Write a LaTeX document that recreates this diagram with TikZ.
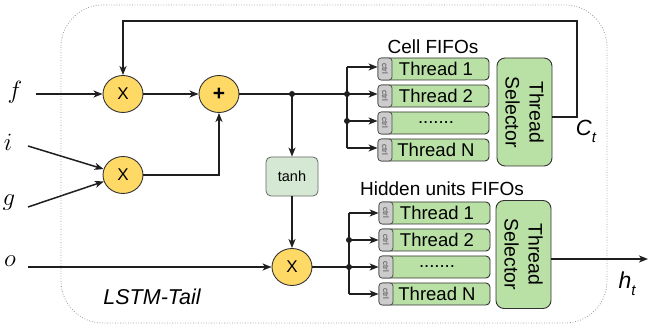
\documentclass[tikz,border=0pt]{standalone}
\usepackage{fontspec}
\setmainfont{Liberation Sans}
\usetikzlibrary{arrows.meta,shapes.geometric,calc}
\definecolor{cyel}{HTML}{FFD966}
\definecolor{cgreen}{HTML}{B9E0A5}
\definecolor{clight}{HTML}{D5E8D4}
\definecolor{cgrey}{HTML}{CCCCCC}
\definecolor{cline}{HTML}{1F1F1F}
\begin{document}
\begin{tikzpicture}[x=1pt,y=-1pt,
  conn/.style={draw=cline, line width=1.5pt},
  arr/.style={conn, -{Stealth[length=9pt,width=7pt,inset=2.5pt]}},
  op/.style={ellipse, draw=black!80, line width=0.9pt, fill=cyel, minimum width=40pt, minimum height=37pt, inner sep=0pt, font=\fontsize{17}{17}\selectfont},
  fifo/.style={rectangle, rounded corners=4pt, draw=black!80, line width=0.9pt, fill=cgreen, minimum width=111pt, minimum height=22pt, inner sep=0pt},
  ctrlbox/.style={rectangle, rounded corners=3pt, draw=black!70, line width=0.8pt, fill=cgrey, minimum width=22pt, minimum height=14pt, inner sep=0pt, rotate=-90, font=\fontsize{8}{8}\selectfont, text=black!70},
  fifotext/.style={inner sep=0pt, font=\fontsize{18.5}{18.5}\selectfont},
  head/.style={inner sep=0pt, font=\fontsize{19}{19}\selectfont},
  selector/.style={rectangle, rounded corners=8pt, draw=black!80, line width=0.9pt, fill=cgreen, minimum width=108pt, minimum height=55pt, inner sep=0pt, rotate=-90, align=center, font=\fontsize{19.5}{24}\selectfont},
  mlab/.style={inner sep=0pt, font=\fontsize{23}{23}\selectfont},
  dot/.style={circle, fill=cline, inner sep=0pt, minimum size=6pt},
]
\useasboundingbox (0,0) rectangle (649,331);
% frame
\draw[gray!80, line width=0.8pt, dash pattern=on 0.8pt off 1.8pt, rounded corners=42pt] (61,5) rectangle (607,323);
\node[inner sep=0pt, font=\fontsize{21.5}{21.5}\selectfont\itshape] (tail) at (152,297) {LSTM-Tail};

% input labels
\node[mlab] (lf) at (15,92) {$f$};
\node[mlab] (li) at (8,142) {$i$};
\node[mlab] (lg) at (9,203) {$g$};
\node[mlab] (lo) at (10,261) {$o$};
\coordinate (fs) at (36,94);
\coordinate (is) at (28,146);
\coordinate (gs) at (28,207);
\coordinate (os) at (28,267);

% operators
\node[op] (x1) at (123,94) {X};
\node[op, font=\fontsize{21}{21}\selectfont\bfseries] (plus) at (219,94) {+};
\node[op] (x2) at (123,175) {X};
\node[op] (x3) at (292,267) {X};
\node[rectangle, rounded corners=5pt, draw=black!60, line width=0.8pt, fill=clight, minimum width=52pt, minimum height=39pt, inner sep=0pt, font=\fontsize{14.5}{14.5}\selectfont] (tanh) at (292,176.5) {tanh};
\node[dot] (d1) at (292,94) {};

% cell FIFOs
\node[head] (chead) at (433,47) {Cell FIFOs};
\foreach \n/\y/\t in {1/69/Thread 1,2/96/Thread 2,3/123/{.......},4/150/Thread N}{
  \node[fifo] (c\n) at (433.5,\y) {};
  \node[ctrlbox] (cc\n) at (385,\y) {ctrl};
  \node[fifotext] (ct\n) at (436,\y) {\t};
}
\node[selector] (csel) at (524.5,112) {Thread\\Selector};
\node[mlab, font=\fontsize{22}{22}\selectfont\itshape] (ct) at (586,131) {C\raisebox{-7pt}{\fontsize{15}{15}\selectfont t}};

% hidden FIFOs
\node[head] (hhead) at (442,189) {Hidden units FIFOs};
\foreach \n/\y/\t in {1/213/Thread 1,2/240/Thread 2,3/267/{.......},4/294/Thread N}{
  \node[fifo] (h\n) at (434.5,\y) {};
  \node[ctrlbox] (hc\n) at (386,\y) {ctrl};
  \node[fifotext] (htx\n) at (437,\y) {\t};
}
\node[selector] (hsel) at (523.5,254.5) {Thread\\Selector};
\node[mlab, font=\fontsize{23}{23}\selectfont\itshape] (ht) at (627,284) {h\raisebox{-7pt}{\fontsize{15}{15}\selectfont t}};
\coordinate (hout) at (648,259);

% branch coordinates
\coordinate (cb1) at (347,67);
\coordinate (cb2) at (347,94);
\coordinate (cb3) at (347,121);
\coordinate (cb4) at (347,148);
\coordinate (hb1) at (349,213);
\coordinate (hb2) at (349,240);
\coordinate (hb3) at (349,267);
\coordinate (hb4) at (349,294);
\coordinate (fb) at (577,21);

% connectors
\draw[arr] (fs) -- (x1.west);
\draw[arr] (is) -- (x2);
\draw[arr] (gs) -- (x2);
\draw[arr] (os) -- (x3.west);
\draw[arr] (x1.east) -- (plus.west);
\draw[arr] (x2.east) -| (plus.south);
\draw[conn] (plus.east) -- (d1.center) -- (cb2);
\draw[arr] (d1.center) -- (tanh.north);
\draw[arr] (tanh.south) -- (x3.north);
\draw[conn] (x3.east) -- (hb3);
\draw[conn] (cb1) -- (cb4);
\draw[conn] (hb1) -- (hb4);
\foreach \n in {1,2,3,4}{
  \draw[arr] (cb\n) -- (cc\n.south |- cb\n);
  \draw[arr] (hb\n) -- (hc\n.south |- hb\n);
}
\node[dot] (cd2) at (cb2) {};
\node[dot] (cd3) at (cb3) {};
\node[dot] (hd2) at (hb2) {};
\node[dot] (hd3) at (hb3) {};
\draw[arr] ($(csel.north)+(0,5)$) -| (fb) -| (x1.north);
\draw[arr] ($(hsel.north)+(0,4.5)$) -- (hout);
\end{tikzpicture}
\end{document}
